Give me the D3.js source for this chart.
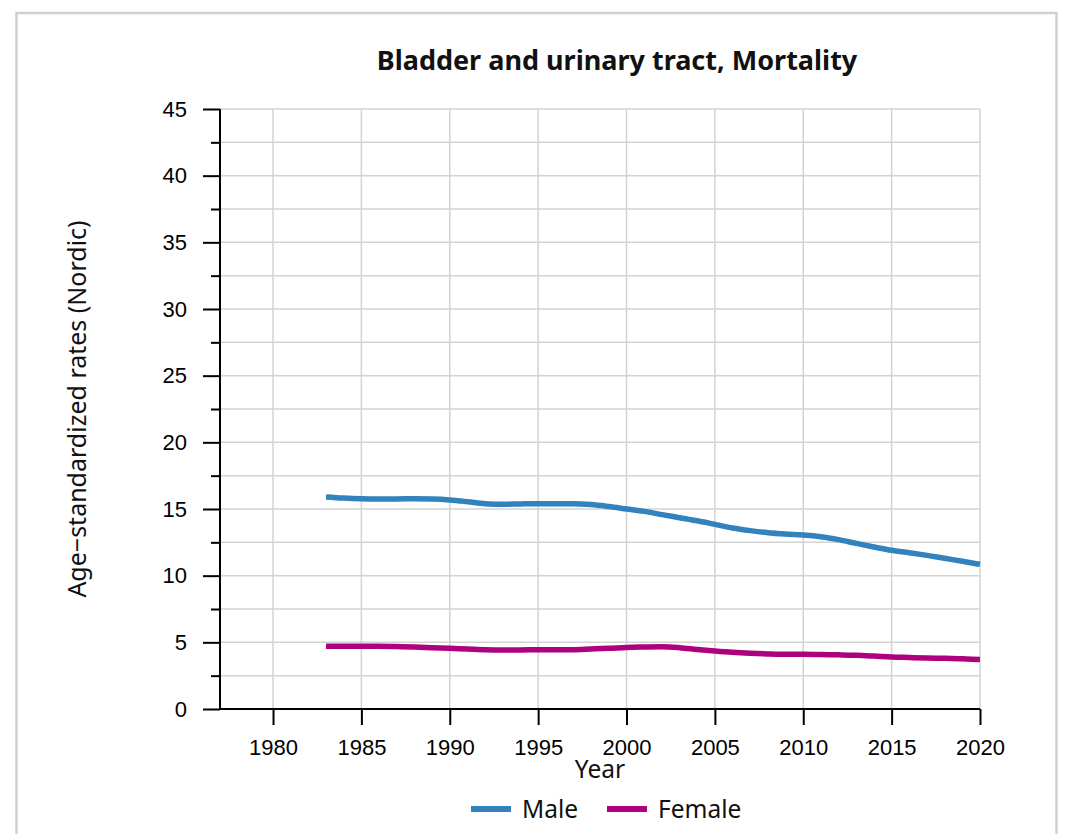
<!DOCTYPE html>
<html>
<head>
<meta charset="utf-8">
<script src="https://cdn.jsdelivr.net/npm/d3@7/dist/d3.min.js"></script>
<style>
  html, body { margin: 0; padding: 0; background: #fff; }
  svg { display: block; }
</style>
</head>
<body>
<svg id="chart" width="1077" height="834"></svg>
<script>
const years = [1983,1984,1985,1986,1987,1988,1989,1990,1991,1992,1993,1994,1995,1996,1997,1998,1999,2000,2001,2002,2003,2004,2005,2006,2007,2008,2009,2010,2011,2012,2013,2014,2015,2016,2017,2018,2019,2020];
const maleValues = [15.9,15.82,15.77,15.75,15.75,15.77,15.75,15.68,15.55,15.4,15.35,15.38,15.4,15.4,15.4,15.33,15.18,15.0,14.82,14.58,14.35,14.12,13.85,13.58,13.38,13.22,13.12,13.05,12.92,12.7,12.42,12.15,11.9,11.72,11.52,11.3,11.08,10.85];
const femaleValues = [4.7,4.7,4.7,4.7,4.68,4.65,4.6,4.55,4.5,4.45,4.43,4.43,4.45,4.45,4.45,4.5,4.55,4.62,4.65,4.67,4.6,4.47,4.35,4.25,4.18,4.13,4.1,4.1,4.08,4.06,4.03,3.97,3.9,3.86,3.82,3.8,3.76,3.72];
const seriesNames = ["Male", "Female"];
const seriesColors = ["#3182bd", "#ae017e"];
const xTicks = [1980,1985,1990,1995,2000,2005,2010,2015,2020];
const yTicks = [0,5,10,15,20,25,30,35,40,45];
const yMinorTicks = [2.5,7.5,12.5,17.5,22.5,27.5,32.5,37.5,42.5];
const titleText = "Bladder and urinary tract, Mortality";
const xTitle = "Year";
const yTitle = "Age\u2212standardized rates (Nordic)";

const svg = d3.select("#chart");
// card
svg.append("rect").attr("x", 16.5).attr("y", 13).attr("width", 1040).attr("height", 840)
  .attr("fill", "#fff").attr("stroke", "#d0d0d0").attr("stroke-width", 2.5);

const pLeft = 220, pRight = 980, pTop = 109, pBottom = 709;
const x = d3.scaleLinear().domain([1977, 2020]).range([pLeft, pRight]);
const y = d3.scaleLinear().domain([0, 45]).range([pBottom, pTop]);

const grid = svg.append("g");
grid.selectAll(".vg").data(xTicks).enter().append("line")
  .attr("x1", d => x(d)).attr("x2", d => x(d)).attr("y1", pTop).attr("y2", pBottom)
  .attr("stroke", "#d3d3d3").attr("stroke-width", 1.5);
grid.selectAll(".hg").data(yTicks.concat(yMinorTicks)).enter().append("line")
  .attr("x1", pLeft).attr("x2", pRight).attr("y1", d => y(d)).attr("y2", d => y(d))
  .attr("stroke", "#d3d3d3").attr("stroke-width", 1.5);

const tickFont = "'Liberation Sans', Arial, sans-serif";
const labelFont = "'Noto Sans', sans-serif";

// y axis
const yAxis = svg.append("g").attr("transform", `translate(${pLeft},0)`)
  .call(d3.axisLeft(y).tickValues(yTicks).tickSize(17).tickPadding(16).tickFormat(d3.format("d")));
yAxis.select(".domain").attr("stroke", "#000").attr("stroke-width", 2).attr("d", `M0,${pTop}V${pBottom}`);
yAxis.selectAll(".tick line").attr("stroke", "#000").attr("stroke-width", 2);
yAxis.selectAll(".tick text").attr("font-family", tickFont).attr("font-size", 22).attr("fill", "#000");
svg.append("g").attr("transform", `translate(${pLeft},0)`)
  .call(d3.axisLeft(y).tickValues(yMinorTicks).tickSize(9).tickFormat(""))
  .call(g => g.select(".domain").remove())
  .selectAll(".tick line").attr("stroke", "#000").attr("stroke-width", 2);

// x axis
const xAxis = svg.append("g").attr("transform", `translate(0,${pBottom})`)
  .call(d3.axisBottom(x).tickValues(xTicks).tickSize(16).tickPadding(14).tickFormat(d3.format("d")));
xAxis.select(".domain").attr("stroke", "#000").attr("stroke-width", 2).attr("d", `M${pLeft},0H${pRight}`);
xAxis.selectAll(".tick line").attr("stroke", "#000").attr("stroke-width", 2);
xAxis.selectAll(".tick text").attr("font-family", tickFont).attr("font-size", 22).attr("fill", "#000");

// lines
const line = d3.line().x(d => x(d[0])).y(d => y(d[1])).curve(d3.curveMonotoneX);
[maleValues, femaleValues].forEach((vals, i) => {
  svg.append("path").datum(years.map((yr, j) => [yr, vals[j]]))
    .attr("d", line).attr("fill", "none").attr("stroke", seriesColors[i]).attr("stroke-width", 5.5);
});

// title
svg.append("text").attr("x", 617).attr("y", 70).attr("text-anchor", "middle")
  .attr("font-family", labelFont).attr("font-weight", "bold").attr("font-size", 27).attr("fill", "#111")
  .text(titleText);
svg.append("text").attr("x", x(1998.5)).attr("y", 778).attr("text-anchor", "middle")
  .attr("font-family", labelFont).attr("font-size", 24.5).attr("fill", "#111").text(xTitle);
svg.append("text").attr("transform", `translate(86,${(pTop + pBottom) / 2}) rotate(-90)`).attr("text-anchor", "middle")
  .attr("font-family", labelFont).attr("font-size", 25).attr("fill", "#111").text(yTitle);

// legend
const legendX = [471, 607];
seriesNames.forEach((name, i) => {
  svg.append("line").attr("x1", legendX[i]).attr("x2", legendX[i] + 40).attr("y1", 809).attr("y2", 809)
    .attr("stroke", seriesColors[i]).attr("stroke-width", 6);
  svg.append("text").attr("x", legendX[i] + 51).attr("y", 818).attr("font-family", labelFont)
    .attr("font-size", 24.5).attr("fill", "#111").text(name);
});
</script>
</body>
</html>
